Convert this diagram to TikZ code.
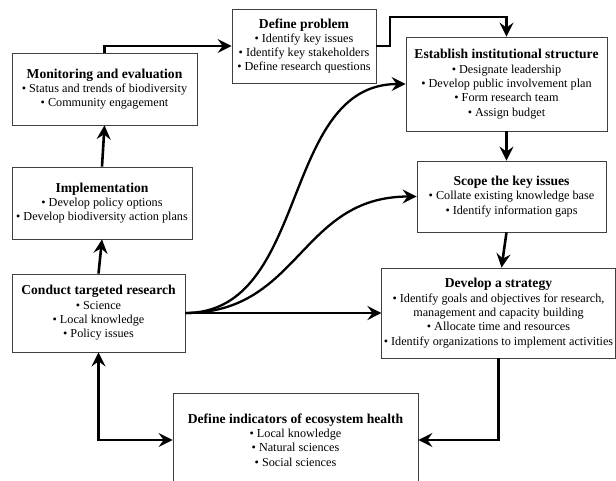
\documentclass[tikz,border=0pt]{standalone}
\usepackage{fontspec}
\setmainfont{Liberation Serif}
\usetikzlibrary{arrows.meta}
\newcommand{\boxhead}[1]{{\fontsize{13.6}{14.3}\selectfont\bfseries #1}\\}
\begin{document}
\begin{tikzpicture}[x=1pt,y=-1pt,
	stage/.style={draw=black!75, line width=0.8pt, fill=white, align=center,
		inner sep=2pt, font=\fontsize{12.2}{14.3}\selectfont},
	tip/.style={-{Stealth[length=14pt,width=14pt,inset=5pt]}},
	flow/.style={line width=2.6pt, tip},
	curvy/.style={line width=2.3pt, tip}]
		% % Page frame
		 	\useasboundingbox (0,0) rectangle (616,480);
		% % Stages of the cycle
		 	\node[stage, minimum width=185, minimum height=72] (monitor) at (104.5,89)
		 		{\boxhead{Monitoring and evaluation}%
		 		\textbullet{} Status and trends of biodiversity\\
		 		\textbullet{} Community engagement};
		 	\node[stage, minimum width=144, minimum height=74] (problem) at (304,46)
		 		{\boxhead{Define problem}%
		 		\textbullet{} Identify key issues\\
		 		\textbullet{} Identify key stakeholders\\
		 		\textbullet{} Define research questions};
		 	\node[stage, minimum width=201, minimum height=94] (institute) at (506.5,84)
		 		{\boxhead{Establish institutional structure}%
		 		\textbullet{} Designate leadership\\
		 		\textbullet{} Develop public involvement plan\\
		 		\textbullet{} Form research team\\
		 		\textbullet{} Assign budget};
		 	\node[stage, minimum width=189, minimum height=71] (scope) at (511.5,196.5)
		 		{\boxhead{Scope the key issues}%
		 		\textbullet{} Collate existing knowledge base\\
		 		\textbullet{} Identify information gaps};
		 	\node[stage, minimum width=180, minimum height=72] (implement) at (102,203)
		 		{\boxhead{Implementation}%
		 		\textbullet{} Develop policy options\\
		 		\textbullet{} Develop biodiversity action plans};
		 	\node[stage, minimum width=173, minimum height=78] (research) at (98.5,313)
		 		{\boxhead{Conduct targeted research}%
		 		\textbullet{} Science\\
		 		\textbullet{} Local knowledge\\
		 		\textbullet{} Policy issues};
		 	\node[stage, minimum width=233, minimum height=90] (strategy) at (498.5,313)
		 		{\boxhead{Develop a strategy}%
		 		\textbullet{} Identify goals and objectives for research,\\
		 		management and capacity building\\
		 		\textbullet{} Allocate time and resources\\
		 		\textbullet{} Identify organizations to implement activities};
		 	\node[stage, minimum width=245, minimum height=94] (indicator) at (295.5,440)
		 		{\boxhead{Define indicators of ecosystem health}%
		 		\textbullet{} Local knowledge\\
		 		\textbullet{} Natural sciences\\
		 		\textbullet{} Social sciences};
		% % Connectors
		 	\coordinate (corner) at (390,17);
		 	\draw[flow] (monitor.north) |- (problem.west);
		 	\draw[flow] (problem.east) -| (corner) -| (institute.north);
		 	\draw[flow] (institute.south) -- (institute.south |- scope.north);
		 	\draw[flow] ([xshift=-5]scope.south) -- ([xshift=3]strategy.north);
		 	\draw[flow] (strategy.south) |- (indicator.east);
		 	\draw[flow, {Stealth[length=14pt,width=14pt,inset=5pt]}-{Stealth[length=14pt,width=14pt,inset=5pt]}] (research.south) |- (indicator.west);
		 	\draw[flow] (research.north) -- (implement.south);
		 	\draw[flow] (implement.north) -- (monitor.south);
		 	\draw[flow] (research.east) -- (strategy.west);
		 	\draw[curvy] (research.east) .. controls +(125,0) and +(-126,0) .. (institute.west);
		 	\draw[curvy] (research.east) .. controls +(115,0) and +(-117,0) .. (scope.west);
\end{tikzpicture}
\end{document}
